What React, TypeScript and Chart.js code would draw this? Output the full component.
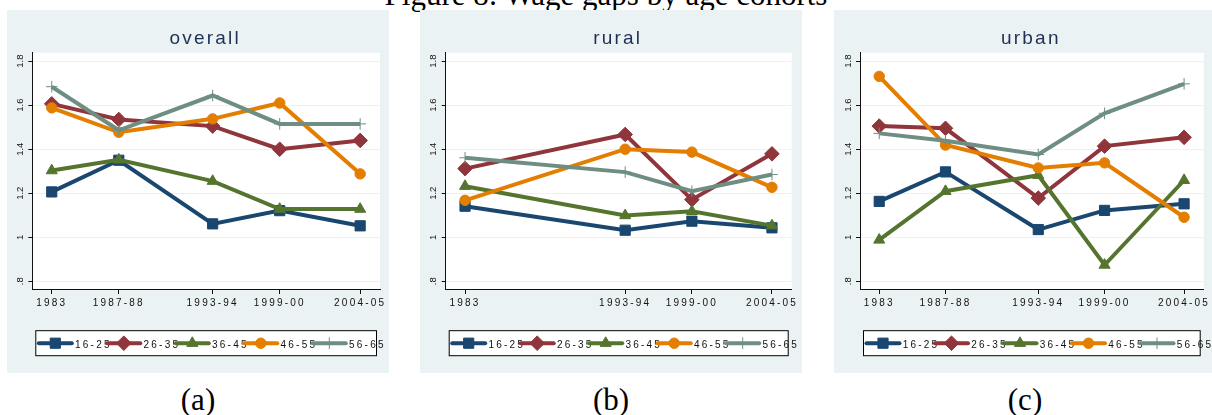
import React, { useEffect, useRef } from 'react';
import { Chart, registerables } from 'chart.js';
import { drawPoint } from 'chart.js/helpers';

Chart.register(...registerables);

// ---------- data ----------
const seriesNames = ['16-25', '26-35', '36-45', '46-55', '56-65'];
const seriesColors = ['#1a476f', '#90353b', '#55752f', '#e37e00', '#6e8e84'];
const seriesMarkers = ['rect', 'rectRot', 'triangle', 'circle', 'cross'];
const markerRadius = [7.2, 7.3, 6.4, 5.2, 5.8];

// NSS rounds used as x positions
const roundsAll = [38, 43, 50, 55, 61];
const roundsRural = [38, 50, 55, 61];
const labelsAll = ['1983', '1987-88', '1993-94', '1999-00', '2004-05'];
const labelsRural = ['1983', '1993-94', '1999-00', '2004-05'];

const yTickValues = [0.8, 1, 1.2, 1.4, 1.6, 1.8];
const yTickLabels = ['.8', '1', '1.2', '1.4', '1.6', '1.8'];

const overall1625 = [1.206, 1.35, 1.061, 1.121, 1.052];
const overall2635 = [1.606, 1.535, 1.505, 1.4, 1.44];
const overall3645 = [1.303, 1.352, 1.255, 1.128, 1.128];
const overall4655 = [1.588, 1.477, 1.538, 1.61, 1.288];
const overall5665 = [1.684, 1.486, 1.644, 1.515, 1.515];

const rural1625 = [1.141, 1.032, 1.073, 1.043];
const rural2635 = [1.312, 1.467, 1.171, 1.379];
const rural3645 = [1.232, 1.099, 1.118, 1.053];
const rural4655 = [1.168, 1.4, 1.387, 1.227];
const rural5665 = [1.361, 1.296, 1.209, 1.285];

const urban1625 = [1.163, 1.297, 1.035, 1.122, 1.152];
const urban2635 = [1.505, 1.495, 1.178, 1.414, 1.454];
const urban3645 = [0.988, 1.209, 1.282, 0.874, 1.259];
const urban4655 = [1.731, 1.419, 1.315, 1.338, 1.091];
const urban5665 = [1.472, 1.438, 1.376, 1.563, 1.697];

const figureTitle = 'Figure 8: Wage gaps by age cohorts';

// ---------- layout ----------
const BG = '#eaf2f3';
const PANEL_TOP = 10;
const PANEL_H = 363;
const PLOT_TOP = 42.8;
const XAXIS_H = 84;

const panels = [
  { title: 'overall', caption: '(a)', left: 7, width: 382, plotLeft: 25.3, plotRight: 373, captionX: 198,
    rounds: roundsAll, labels: labelsAll, series: [overall1625, overall2635, overall3645, overall4655, overall5665] },
  { title: 'rural', caption: '(b)', left: 420, width: 382, plotLeft: 25.7, plotRight: 371.7, captionX: 611,
    rounds: roundsRural, labels: labelsRural, series: [rural1625, rural2635, rural3645, rural4655, rural5665] },
  { title: 'urban', caption: '(c)', left: 834, width: 378, plotLeft: 26, plotRight: 372, captionX: 1025,
    rounds: roundsAll, labels: labelsAll, series: [urban1625, urban2635, urban3645, urban4655, urban5665] },
];

const SANS = '"Liberation Sans", Arial, sans-serif';

function makePlugin(title: string) {
  return {
    id: 'stataLook',
    beforeDraw(chart: any) {
      const { ctx, chartArea, width, height } = chart;
      ctx.save();
      ctx.letterSpacing = '0px';
      ctx.fillStyle = BG;
      ctx.fillRect(0, 0, width, height);
      ctx.fillStyle = '#ffffff';
      ctx.fillRect(chartArea.left, chartArea.top, chartArea.right - chartArea.left, chartArea.bottom - chartArea.top);
      ctx.restore();
      ctx.letterSpacing = '0px';
    },
    afterDatasetsDraw(chart: any) {
      chart.ctx.letterSpacing = '2.2px';
    },
    afterDraw(chart: any) {
      const { ctx, chartArea } = chart;
      ctx.save();
      // title
      ctx.letterSpacing = '2.2px';
      ctx.fillStyle = '#1f2f56';
      ctx.font = `19px ${SANS}`;
      ctx.textAlign = 'center';
      ctx.textBaseline = 'alphabetic';
      ctx.fillText(title, (chartArea.left + chartArea.right) / 2 - 1, 34.3);

      // legend
      const bx = chartArea.left + 3.5;
      const bw = chartArea.right - chartArea.left - 7;
      const by = chartArea.bottom + 41.7;
      const bh = 25;
      ctx.fillStyle = '#ffffff';
      ctx.fillRect(bx, by, bw, bh);
      ctx.strokeStyle = '#000000';
      ctx.lineWidth = 1;
      ctx.strokeRect(bx, by, bw, bh);
      const cy = by + bh / 2;
      chart.data.datasets.forEach((ds: any, i: number) => {
        const x0 = bx + 3 + i * 68.5;
        ctx.strokeStyle = ds.borderColor;
        ctx.lineWidth = 4;
        ctx.lineCap = 'round';
        ctx.beginPath();
        ctx.moveTo(x0, cy);
        ctx.lineTo(x0 + 33, cy);
        ctx.stroke();
        ctx.lineCap = 'butt';
        ctx.fillStyle = ds.pointBackgroundColor;
        ctx.strokeStyle = ds.pointBorderColor;
        ctx.lineWidth = ds.pointBorderWidth;
        drawPoint(ctx, { pointStyle: ds.pointStyle, radius: ds.pointRadius, rotation: 0, borderWidth: ds.pointBorderWidth }, x0 + 16.5, cy);
        ctx.fillStyle = '#111111';
        ctx.font = `10px ${SANS}`;
        ctx.textAlign = 'left';
        ctx.textBaseline = 'alphabetic';
        ctx.fillText(ds.label, x0 + 36.3, cy + 5.2);
      });
      ctx.restore();
      ctx.letterSpacing = '0px';
    },
  };
}

function Panel({ cfg }: { cfg: any }) {
  const ref = useRef<HTMLCanvasElement>(null);
  useEffect(() => {
    if (!ref.current) return;
    const datasets = seriesNames.map((name, i) => ({
      label: name,
      data: cfg.rounds.map((r: number, j: number) => ({ x: r, y: cfg.series[i][j] })),
      borderColor: seriesColors[i],
      backgroundColor: seriesColors[i],
      borderWidth: 4,
      tension: 0,
      pointStyle: seriesMarkers[i],
      pointRadius: markerRadius[i],
      pointHoverRadius: markerRadius[i],
      pointBackgroundColor: seriesColors[i],
      pointBorderColor: seriesColors[i],
      pointBorderWidth: 1,
      order: seriesNames.length - i,
    }));
    const chart = new Chart(ref.current, {
      type: 'line',
      data: { datasets },
      options: {
        animation: false,
        responsive: false,
        devicePixelRatio: 1,
        events: [],
        layout: { padding: { top: PLOT_TOP, right: cfg.width - cfg.plotRight, bottom: 0, left: 0 } },
        plugins: { legend: { display: false }, title: { display: false }, tooltip: { enabled: false } },
        scales: {
          x: {
            type: 'linear',
            min: 36.55,
            max: 62.48,
            afterBuildTicks: (s: any) => { s.ticks = cfg.rounds.map((v: number) => ({ value: v })); },
            afterFit: (s: any) => { s.height = XAXIS_H; },
            ticks: {
              z: 1,
              autoSkip: false, maxRotation: 0, minRotation: 0, padding: 3.5, color: '#111111',
              font: { family: SANS, size: 10 },
              callback: (_v: any, i: number) => cfg.labels[i],
            },
            grid: { display: true, drawOnChartArea: false, drawTicks: true, tickLength: 5, tickColor: '#111111', tickWidth: 1 },
            border: { display: true, color: '#111111', width: 1 },
          },
          y: {
            type: 'linear',
            min: 0.765,
            max: 1.838,
            afterBuildTicks: (s: any) => { s.ticks = yTickValues.map((v) => ({ value: v })); },
            afterFit: (s: any) => { s.width = cfg.plotLeft; },
            ticks: {
              autoSkip: false, minRotation: 90, maxRotation: 90, crossAlign: 'center', padding: 1.5, color: '#111111',
              font: { family: SANS, size: 9.5 },
              callback: (_v: any, i: number) => yTickLabels[i],
            },
            grid: { color: BG, lineWidth: 1, drawTicks: true, tickLength: 4, tickColor: '#111111', tickWidth: 1 },
            border: { display: true, color: '#111111', width: 1 },
          },
        },
      },
      plugins: [makePlugin(cfg.title)],
    } as any);
    return () => chart.destroy();
  }, []);
  return (
    <div style={{ position: 'absolute', left: cfg.left, top: PANEL_TOP, width: cfg.width, height: PANEL_H }}>
      <canvas ref={ref} width={cfg.width} height={PANEL_H} style={{ display: 'block' }} />
    </div>
  );
}

export default function App() {
  const serif = '"Liberation Serif", "Times New Roman", serif';
  return (
    <div style={{ position: 'absolute', left: 0, top: 0, width: 1212, height: 415, overflow: 'hidden', background: '#ffffff' }}>
      <div style={{ position: 'absolute', left: 0, top: -21, width: 1212, textAlign: 'center', fontFamily: serif, fontSize: 31, lineHeight: '31px', color: '#000', whiteSpace: 'nowrap' }}>
        {figureTitle}
      </div>
      {panels.map((p) => (
        <Panel key={p.title} cfg={p} />
      ))}
      {panels.map((p) => (
        <div key={p.caption} style={{ position: 'absolute', left: p.captionX - 50, top: 383.5, width: 100, textAlign: 'center', fontFamily: serif, fontSize: 31, lineHeight: '31px', color: '#000' }}>
          {p.caption}
        </div>
      ))}
    </div>
  );
}
